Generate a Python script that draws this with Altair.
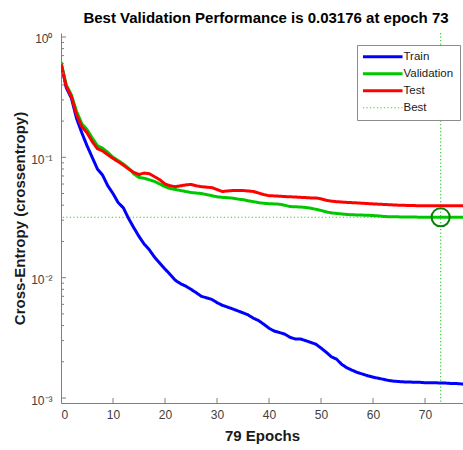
import altair as alt
import pandas as pd

epochs = list(range(80))

train = [0.61, 0.38, 0.31, 0.21, 0.16, 0.125, 0.10, 0.080, 0.071, 0.058,
         0.050, 0.042, 0.038, 0.031, 0.026, 0.022, 0.019, 0.017, 0.0148, 0.0132,
         0.0118, 0.0106, 0.0095, 0.0089, 0.0085, 0.0080, 0.0075, 0.0070, 0.0068, 0.0066,
         0.0062, 0.0059, 0.0057, 0.0055, 0.0053, 0.0051, 0.0049, 0.0046, 0.0044, 0.0041,
         0.0038, 0.0036, 0.0035, 0.0034, 0.0032, 0.0031, 0.0031, 0.0030, 0.0029, 0.0028,
         0.0026, 0.0024, 0.0022, 0.0021, 0.0019, 0.00178, 0.0017, 0.00163, 0.00158, 0.00153,
         0.00149, 0.00146, 0.00143, 0.00140, 0.00138, 0.00137, 0.00136, 0.00136, 0.00135, 0.00135,
         0.00134, 0.00134, 0.00134, 0.00133, 0.00133, 0.00132, 0.00132, 0.00131, 0.00131, 0.00130]

validation = [0.62, 0.40, 0.33, 0.24, 0.19, 0.17, 0.145, 0.125, 0.119, 0.110,
              0.100, 0.094, 0.088, 0.081, 0.073, 0.068, 0.067, 0.065, 0.063, 0.060,
              0.057, 0.055, 0.054, 0.053, 0.052, 0.051, 0.0505, 0.050, 0.049, 0.048,
              0.047, 0.0465, 0.0462, 0.0458, 0.045, 0.0445, 0.0435, 0.0428, 0.042, 0.0415,
              0.0412, 0.041, 0.0408, 0.040, 0.039, 0.0388, 0.0387, 0.0383, 0.0378, 0.037,
              0.0362, 0.0352, 0.0345, 0.0342, 0.0338, 0.0335, 0.0333, 0.0332, 0.0331, 0.0330,
              0.0328, 0.0326, 0.0323, 0.0321, 0.0320, 0.0320, 0.0319, 0.0319, 0.0319, 0.0318,
              0.0318, 0.0318, 0.0318, 0.03176, 0.0318, 0.0318, 0.0318, 0.0318, 0.0319, 0.0319]

test = [0.60, 0.39, 0.32, 0.225, 0.18, 0.16, 0.135, 0.118, 0.113, 0.105,
        0.098, 0.092, 0.086, 0.080, 0.075, 0.072, 0.074, 0.073, 0.069, 0.065,
        0.060, 0.058, 0.057, 0.058, 0.059, 0.0595, 0.058, 0.057, 0.0565, 0.056,
        0.054, 0.052, 0.0525, 0.053, 0.053, 0.053, 0.0525, 0.052, 0.0505, 0.049,
        0.048, 0.0478, 0.0475, 0.0472, 0.047, 0.0468, 0.0465, 0.0463, 0.046, 0.046,
        0.0452, 0.0440, 0.0432, 0.0428, 0.0425, 0.0422, 0.042, 0.0418, 0.0415, 0.0413,
        0.041, 0.0408, 0.0406, 0.0404, 0.0402, 0.040, 0.0399, 0.0398, 0.0397, 0.0396,
        0.0396, 0.0395, 0.0395, 0.0395, 0.0395, 0.0395, 0.0395, 0.0395, 0.0395, 0.0395]

series_names = ["Train", "Validation", "Test", "Best"]
series_colors = ["#0000ff", "#00c800", "#ff0000", "#3ccc3c"]
series_dash = [[1, 0], [1, 0], [1, 0], [1.2, 2.3]]

best_epoch = 73
best_value = 0.03176

x_tick_values = [0, 10, 20, 30, 40, 50, 60, 70]
y_major = [0.001, 0.01, 0.1, 1]
y_minor = [k * d for d in [0.001, 0.01, 0.1] for k in range(2, 10)]

W, H = 402, 370

rows = []
for name, vals in [("Train", train), ("Validation", validation), ("Test", test)]:
    for e, v in zip(epochs, vals):
        rows.append({"epoch": e, "value": v, "series": name})
df = pd.DataFrame(rows)

xscale = alt.Scale(domain=[0, 77.3], nice=False, zero=False)
yscale = alt.Scale(type="log", domain=[0.000909, 1.079], nice=False)

legend = alt.Legend(
    title=None, orient="none", legendX=296, legendY=12,
    symbolType="M-3.3,0H3.3", symbolSize=144, symbolOffset=14, labelOffset=15,
    symbolStrokeWidth=alt.ExprRef("datum.label == 'Best' ? 1.2 : 3"),
    labelFontSize=11.5, labelFont="Liberation Sans", labelColor="#1a1a1a",
    strokeColor="#8c8c8c", fillColor="white", padding=6, rowPadding=4,
)

color_enc = alt.Color("series:N", scale=alt.Scale(domain=series_names, range=series_colors), legend=legend)
dash_enc = alt.StrokeDash("series:N", scale=alt.Scale(domain=series_names, range=series_dash), legend=legend)

x_axis = alt.Axis(values=x_tick_values, title="79 Epochs", ticks=False, grid=False,
                  labelPadding=6, titlePadding=8, domainColor="#7f7f7f")
y_axis = alt.Axis(values=y_major, title="Cross-Entropy  (crossentropy)", ticks=False, grid=False,
                  labelExpr="'10' + (round(log(datum.value)/LN10) == 0 ? '⁰' : round(log(datum.value)/LN10) == -1 ? '⁻¹' : round(log(datum.value)/LN10) == -2 ? '⁻²' : '⁻³')",
                  labelPadding=9, titlePadding=3, domainColor="#7f7f7f", labelOffset=2)

lines = alt.Chart(df).mark_line(clip=True, strokeWidth=3).encode(
    x=alt.X("epoch:Q", scale=xscale, axis=x_axis),
    y=alt.Y("value:Q", scale=yscale, axis=y_axis),
    color=color_enc, strokeDash=dash_enc,
    order=alt.Order("epoch:Q"),
)

best_v = alt.Chart(pd.DataFrame({"epoch": [best_epoch]})).mark_rule(
    strokeWidth=1.2, color="#3ccc3c", strokeDash=[1.2, 2.3]
).encode(
    x=alt.X("epoch:Q", scale=xscale),
)
best_h = alt.Chart(pd.DataFrame({"value": [best_value], "series": ["Best"]})).mark_rule(strokeWidth=1.2).encode(
    y=alt.Y("value:Q", scale=yscale),
    color=color_enc, strokeDash=dash_enc,
)
circle = alt.Chart(pd.DataFrame({"epoch": [best_epoch], "value": [best_value]})).mark_point(
    shape="circle", size=330, strokeWidth=2, color="#0a800a", filled=False, opacity=1
).encode(x=alt.X("epoch:Q", scale=xscale), y=alt.Y("value:Q", scale=yscale))

xt = alt.Chart(pd.DataFrame({"t": x_tick_values[1:]})).mark_rule(color="#7f7f7f").encode(
    x=alt.X("t:Q", scale=xscale), y=alt.value(H), y2=alt.value(H - 5))
yt_major = alt.Chart(pd.DataFrame({"t": y_major})).mark_rule(color="#7f7f7f").encode(
    y=alt.Y("t:Q", scale=yscale), x=alt.value(0), x2=alt.value(5))
yt_minor = alt.Chart(pd.DataFrame({"t": y_minor})).mark_rule(color="#7f7f7f").encode(
    y=alt.Y("t:Q", scale=yscale), x=alt.value(0), x2=alt.value(3))

chart = alt.layer(best_v, best_h, lines, circle, xt, yt_major, yt_minor).properties(
    width=W, height=H,
    background="white",
    title=alt.TitleParams("Best Validation Performance is 0.03176 at epoch 73",
                          font="Liberation Sans", fontSize=15, fontWeight="bold",
                          color="#000000", anchor="middle", offset=6, dx=4),
    autosize=alt.AutoSizeParams(type="none"),
    padding={"left": 61, "top": 33, "right": 0, "bottom": 47},
).configure_view(stroke=None).configure_axis(
    labelFont="Liberation Sans", labelFontSize=12, labelColor="#404040",
    titleFont="Liberation Sans", titleFontSize=15, titleFontWeight="bold", titleColor="#1a1a1a",
)

chart.save("out.html", embed_options={"renderer": "svg", "actions": False})
